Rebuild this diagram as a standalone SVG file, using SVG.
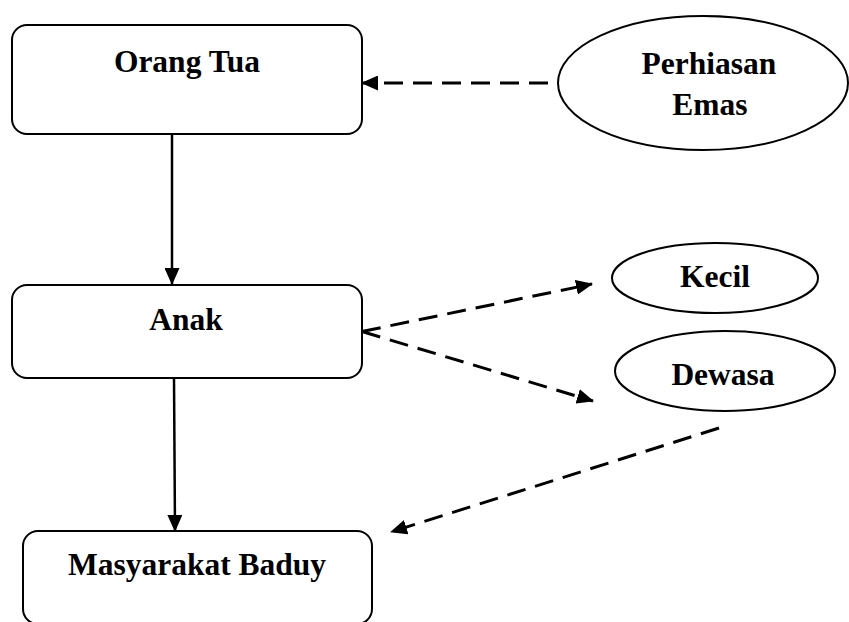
<svg xmlns="http://www.w3.org/2000/svg" width="849" height="622" viewBox="0 0 849 622">
<style>
.box{fill:#fff;stroke:#000;stroke-width:2}
.ell{fill:#fff;stroke:#000;stroke-width:2}
.t{font-family:"Liberation Serif","Times New Roman",serif;font-weight:bold;font-size:31.5px;fill:#000;text-anchor:middle}
.solid{stroke:#000;stroke-width:2.5;fill:none}
.dash{stroke:#000;stroke-width:3;fill:none;stroke-dasharray:19 10}
</style>
<defs>
<marker id="ah" markerUnits="userSpaceOnUse" markerWidth="17" markerHeight="15" refX="16" refY="7.5" orient="auto">
<path d="M0,0 L17,7.5 L0,15 z" fill="#000"/>
</marker>
</defs>
<rect width="849" height="622" fill="#fff"/>
<g id="connectors">
<line class="solid" x1="172" y1="134" x2="172" y2="284" marker-end="url(#ah)"/>
<line class="solid" x1="174" y1="378" x2="175" y2="531" marker-end="url(#ah)"/>
<line class="dash" x1="548" y1="83" x2="362" y2="83" marker-end="url(#ah)"/>
<line class="dash" x1="362" y1="331.5" x2="592" y2="284" marker-end="url(#ah)"/>
<line class="dash" x1="362" y1="331.5" x2="593" y2="401" marker-end="url(#ah)"/>
<line class="dash" x1="719" y1="428" x2="391" y2="532" marker-end="url(#ah)"/>
</g>
<g id="orang-tua">
<rect class="box" x="12" y="25" width="350" height="109" rx="15"/>
<text class="t" x="187" y="72">Orang Tua</text>
</g>
<g id="perhiasan-emas">
<ellipse class="ell" cx="703" cy="83" rx="145" ry="67"/>
<text class="t" x="709" y="74">Perhiasan</text>
<text class="t" x="710" y="115">Emas</text>
</g>
<g id="anak">
<rect class="box" x="12" y="285" width="350" height="93" rx="15"/>
<text class="t" x="186" y="330">Anak</text>
</g>
<g id="kecil">
<ellipse class="ell" cx="715" cy="278" rx="103" ry="35"/>
<text class="t" x="715" y="287">Kecil</text>
</g>
<g id="dewasa">
<ellipse class="ell" cx="725" cy="371" rx="110" ry="40"/>
<text class="t" x="723" y="385">Dewasa</text>
</g>
<g id="masyarakat-baduy">
<rect class="box" x="23" y="531" width="349" height="93" rx="15"/>
<text class="t" x="197" y="575">Masyarakat Baduy</text>
</g>
</svg>
